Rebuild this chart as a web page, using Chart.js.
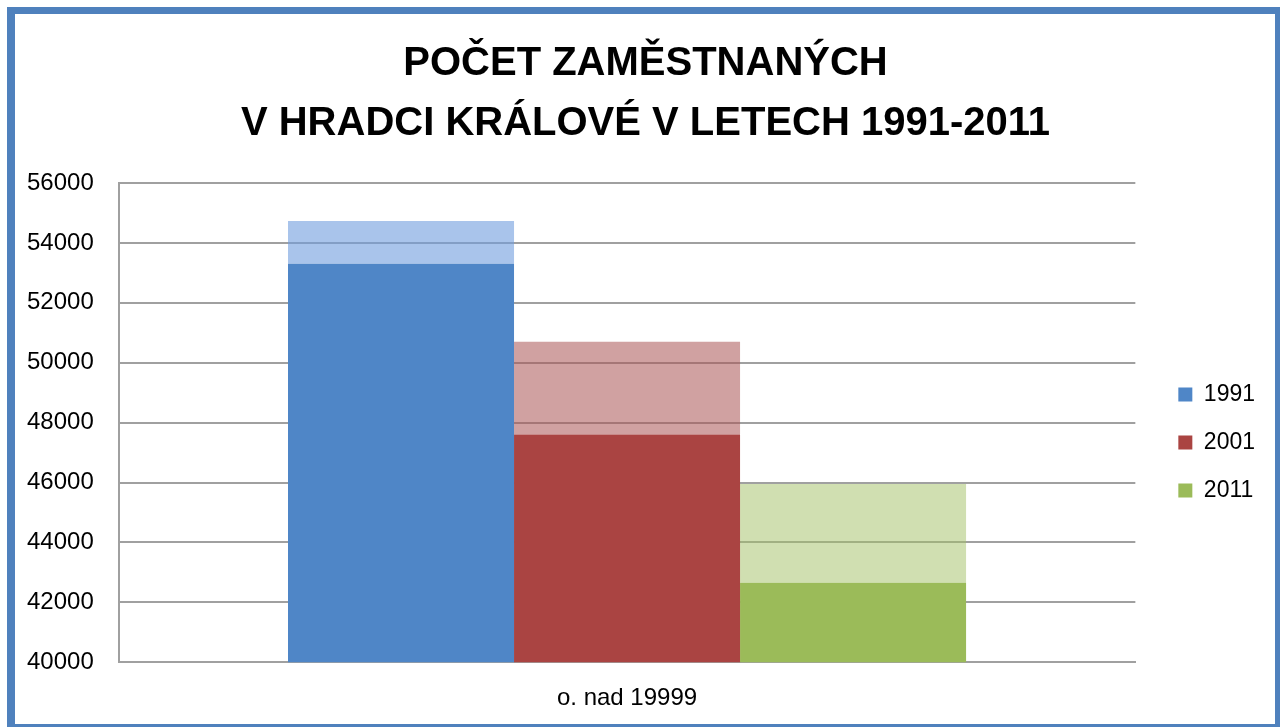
<!DOCTYPE html>
<html>
<head>
<meta charset="utf-8">
<script src="https://cdn.jsdelivr.net/npm/chart.js@4/dist/chart.umd.min.js"></script>
<style>
  html, body { margin: 0; padding: 0; background: #fff; }
  #wrap { position: relative; width: 1280px; height: 727px; }
  #frame {
    position: absolute; left: 7px; top: 7px; right: 0; bottom: 0;
    border-style: solid; border-color: #4F81BD;
    border-width: 7px 5px 3px 8px;
    pointer-events: none;
  }
</style>
</head>
<body>
<div id="wrap">
  <canvas id="myChart" width="1280" height="727"></canvas>
  <div id="frame"></div>
</div>
<script>
// data
const categories = ['o. nad 19999'];
const years = ['1991', '2001', '2011'];
const frontValues = [53300, 47600, 42650];   // front face of each column
const backValues = [54730, 50700, 45950];    // back (top face) edge
const yTicks = [40000, 42000, 44000, 46000, 48000, 50000, 52000, 54000, 56000];

const darkColors = ['#4F86C7', '#AA4442', '#9BBB59'];
const lightColors = ['rgba(112,157,222,0.6)', 'rgba(170,84,84,0.55)', 'rgba(162,192,100,0.5)'];

const datasets = [];
years.forEach((y, i) => {
  datasets.push({
    label: y,
    data: [frontValues[i]],
    backgroundColor: darkColors[i],
    stack: 's' + i,
  });
  datasets.push({
    label: y + ' top',
    data: [[frontValues[i], backValues[i]]],
    backgroundColor: lightColors[i],
    stack: 's' + i,
  });
});

const FONT = 'Liberation Sans';

// nudge legend and title a little, like the original
const boxShift = {
  id: 'boxShift',
  afterLayout(chart) {
    const lg = chart.legend;
    lg.left += 18; lg.right += 18;
    lg.top += 58; lg.bottom += 58;
    const tb = chart.titleBlock;
    tb.left += 21; tb.right += 21;
  },
};

const ctx = document.getElementById('myChart').getContext('2d');
const myChart = new Chart(ctx, {
  type: 'bar',
  data: { labels: categories, datasets: datasets },
  plugins: [boxShift],
  options: {
    responsive: false,
    animation: false,
    layout: { padding: { left: 2, right: 33, top: 34, bottom: -8 } },
    datasets: { bar: { categoryPercentage: 0.667, barPercentage: 1.0 } },
    plugins: {
      title: {
        display: true,
        text: ['POČET ZAMĚSTNANÝCH', 'V HRADCI KRÁLOVÉ V LETECH 1991-2011'],
        color: '#000',
        font: { family: FONT, size: 40, weight: 'bold', lineHeight: 1.5 },
        padding: { top: 0, bottom: 29 },
      },
      legend: {
        position: 'right',
        labels: {
          filter: (item) => !item.text.endsWith('top'),
          color: '#000',
          font: { family: FONT, size: 23 },
          boxWidth: 14,
          boxHeight: 14,
          padding: 25,
        },
      },
      tooltip: { enabled: false },
    },
    scales: {
      x: {
        grid: { display: false, drawTicks: false },
        border: { display: true, color: '#A0A0A0', width: 2 },
        ticks: { color: '#000', font: { family: FONT, size: 24 }, padding: 22 },
      },
      y: {
        stacked: false,
        min: 40000,
        max: 56000,
        afterBuildTicks: (axis) => { axis.ticks = yTicks.map(v => ({ value: v })); },
        grid: { color: '#A0A0A0', lineWidth: 2, drawTicks: false },
        border: { display: true, color: '#A0A0A0', width: 2 },
        ticks: {
          color: '#000',
          font: { family: FONT, size: 24 },
          padding: 25,
          callback: (v) => String(v),
        },
      },
    },
  },
});
</script>
</body>
</html>
